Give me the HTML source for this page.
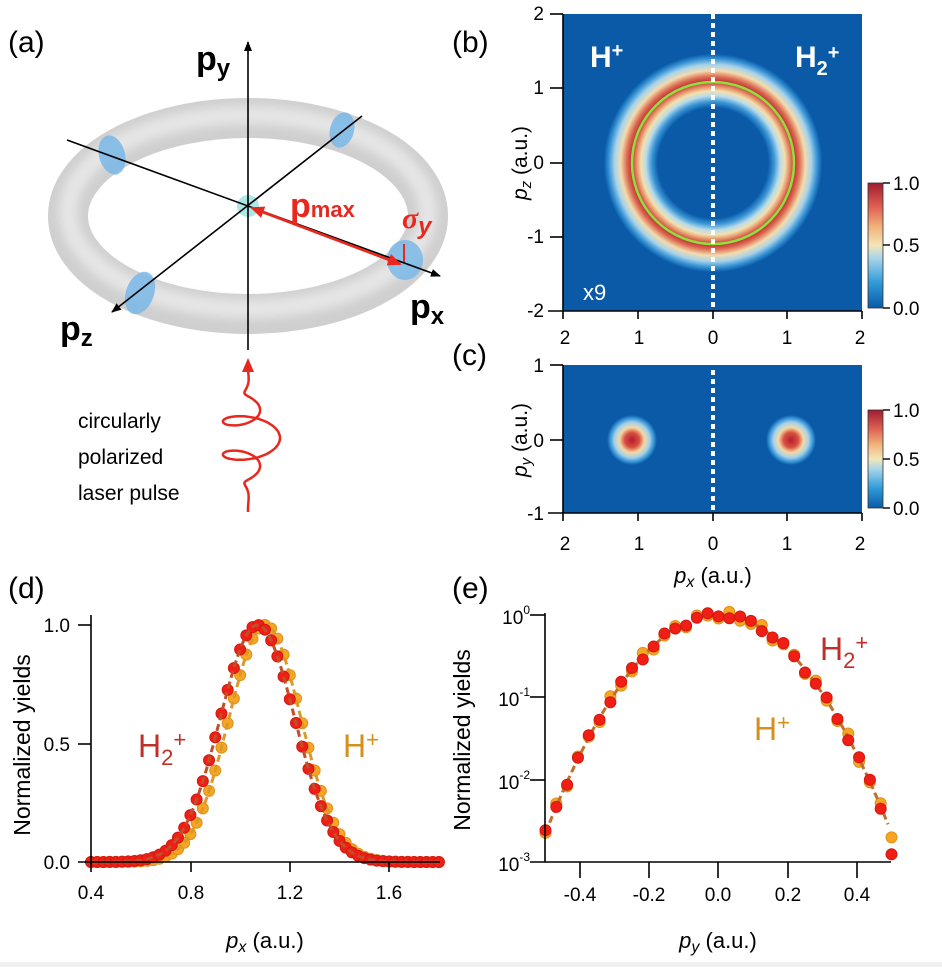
<!DOCTYPE html>
<html><head><meta charset="utf-8"><style>
html,body{margin:0;padding:0;background:#fff}
svg{display:block;font-family:"Liberation Sans",sans-serif}
</style></head><body>
<svg id="s" width="942" height="967" viewBox="0 0 942 967" xmlns="http://www.w3.org/2000/svg">
<defs>
<radialGradient id="ring" cx="713" cy="163" r="120" gradientUnits="userSpaceOnUse">
<stop offset="0" stop-color="#0a5aa8"/><stop offset="0.46" stop-color="#0a5aa8"/>
<stop offset="0.51" stop-color="#3a96d6"/><stop offset="0.56" stop-color="#b9dcea"/>
<stop offset="0.60" stop-color="#f3e0ae"/><stop offset="0.64" stop-color="#e48a62"/>
<stop offset="0.68" stop-color="#c0303a"/><stop offset="0.72" stop-color="#dd6e52"/>
<stop offset="0.77" stop-color="#f2dcae"/><stop offset="0.82" stop-color="#a8d3ea"/>
<stop offset="0.87" stop-color="#3592d4"/><stop offset="0.91" stop-color="#0a5aa8"/>
<stop offset="1" stop-color="#0a5aa8"/></radialGradient>
<radialGradient id="spot"><stop offset="0" stop-color="#b01e30"/><stop offset="0.3" stop-color="#d9503f"/>
<stop offset="0.5" stop-color="#f3d8a4"/><stop offset="0.7" stop-color="#a6d2ea"/><stop offset="0.88" stop-color="#3592d4"/><stop offset="1" stop-color="#0a5aa8"/></radialGradient>
<linearGradient id="cb" x1="0" y1="1" x2="0" y2="0">
<stop offset="0" stop-color="#0a5aa8"/><stop offset="0.2" stop-color="#2f9ad8"/><stop offset="0.4" stop-color="#a9d5ea"/>
<stop offset="0.5" stop-color="#f4e6b8"/><stop offset="0.65" stop-color="#f0b27a"/><stop offset="0.8" stop-color="#e06455"/><stop offset="1" stop-color="#a01c30"/></linearGradient>
<filter id="bl"><feGaussianBlur stdDeviation="5"/></filter>
<marker id="ah" markerWidth="10" markerHeight="10" refX="9" refY="5" orient="auto" markerUnits="userSpaceOnUse"><path d="M0,1 L10,5 L0,9 z" fill="#000"/></marker>
<marker id="ahr" markerWidth="14" markerHeight="14" refX="12" refY="7" orient="auto" markerUnits="userSpaceOnUse"><path d="M0,1 L14,7 L0,13 z" fill="#e8281e"/></marker>
</defs>

<!-- (a) -->
<text x="8" y="52" font-size="30">(a)</text>
<ellipse cx="248" cy="216" rx="180" ry="98" fill="none" stroke="#cfcfcf" stroke-width="40"/>
<ellipse cx="248" cy="212" rx="180" ry="97" fill="none" stroke="#e6e6e6" stroke-width="18" filter="url(#bl)"/>
<g fill="#7ab8e8" opacity="0.85">
<ellipse cx="112" cy="155" rx="13" ry="20" transform="rotate(-15 112 155)"/>
<ellipse cx="342" cy="130" rx="12" ry="18" transform="rotate(15 342 130)"/>
<ellipse cx="140" cy="293" rx="14" ry="22" transform="rotate(20 140 293)"/>
<ellipse cx="405" cy="260" rx="18" ry="20"/>
</g>
<circle cx="248" cy="206" r="11" fill="#aee6e6"/>
<line x1="248" y1="350" x2="248" y2="42" stroke="#000" stroke-width="1.6" marker-end="url(#ah)"/>
<line x1="67" y1="140" x2="440" y2="276" stroke="#000" stroke-width="1.6" marker-end="url(#ah)"/>
<line x1="362" y1="116" x2="112" y2="312" stroke="#000" stroke-width="1.6" marker-end="url(#ah)"/>
<line x1="400" y1="264" x2="252" y2="208" stroke="#e8281e" stroke-width="2.5" marker-end="url(#ahr)"/>
<line x1="252" y1="208" x2="400" y2="264" stroke="#e8281e" stroke-width="2.5" marker-end="url(#ahr)"/>
<line x1="404" y1="244" x2="404" y2="262" stroke="#e8281e" stroke-width="2"/>
<text x="290" y="217" font-size="34" font-weight="bold" fill="#e8281e">p<tspan font-size="22">max</tspan></text>
<text x="402" y="228" font-size="30" font-weight="bold" font-style="italic" fill="#e8281e" font-family="Liberation Serif">σ<tspan font-size="24" font-family="Liberation Sans" dy="6">y</tspan></text>
<text x="196" y="70" font-size="34" font-weight="bold">p<tspan font-size="24" dy="6">y</tspan></text>
<text x="60" y="340" font-size="34" font-weight="bold">p<tspan font-size="24" dy="6">z</tspan></text>
<text x="410" y="318" font-size="34" font-weight="bold">p<tspan font-size="24" dy="6">x</tspan></text>
<path d="M242,372 L248,358 L254,372z" fill="#e8281e"/>
<path id="spiral" fill="none" stroke="#e8281e" stroke-width="2.5"/>
<text font-size="21" x="78" y="428">circularly</text>
<text font-size="21" x="78" y="464">polarized</text>
<text font-size="21" x="78" y="500">laser pulse</text>

<!-- (b) -->
<text x="452" y="52" font-size="30">(b)</text>
<rect x="563" y="14" width="299" height="297" fill="#0a5aa8"/>
<circle cx="713" cy="163" r="120" fill="url(#ring)"/>
<circle cx="713" cy="163" r="81" fill="none" stroke="#8fe03a" stroke-width="2.5"/>
<line x1="713" y1="14" x2="713" y2="311" stroke="#fff" stroke-width="4" stroke-dasharray="5,4"/>
<text x="590" y="67" font-size="30" font-weight="bold" fill="#fff">H<tspan font-size="20" dy="-10">+</tspan></text>
<text x="795" y="67" font-size="30" font-weight="bold" fill="#fff">H<tspan font-size="20" dy="8">2</tspan><tspan font-size="20" dy="-16">+</tspan></text>
<text x="583" y="300" font-size="22" fill="#fff">x9</text>
<g stroke="#000" stroke-width="1.6"><line x1="563" y1="14" x2="563" y2="319"/><line x1="548" y1="311" x2="862" y2="311"/>
<line x1="550" y1="14" x2="563" y2="14"/><line x1="550" y1="88" x2="563" y2="88"/><line x1="550" y1="163" x2="563" y2="163"/><line x1="550" y1="237" x2="563" y2="237"/>
<line x1="638" y1="311" x2="638" y2="319"/><line x1="713" y1="311" x2="713" y2="319"/><line x1="787" y1="311" x2="787" y2="319"/><line x1="862" y1="311" x2="862" y2="319"/></g>
<g font-size="19" text-anchor="end"><text x="544" y="20">2</text><text x="544" y="94">1</text><text x="544" y="169">0</text><text x="544" y="243">-1</text><text x="544" y="317">-2</text></g>
<g font-size="19" text-anchor="middle"><text x="565" y="344">2</text><text x="639" y="344">1</text><text x="713" y="344">0</text><text x="787" y="344">1</text><text x="860" y="344">2</text></g>
<text transform="translate(527,163) rotate(-90)" font-size="21" text-anchor="middle"><tspan font-style="italic">p<tspan font-size="15" dy="4">z</tspan></tspan><tspan dy="-4"> (a.u.)</tspan></text>
<rect x="868" y="183" width="15" height="125" fill="url(#cb)" stroke="#333" stroke-width="0.8"/>
<g stroke="#000" stroke-width="1.4"><line x1="883" y1="183" x2="890" y2="183"/><line x1="883" y1="245" x2="890" y2="245"/><line x1="883" y1="308" x2="890" y2="308"/></g>
<g font-size="19"><text x="893" y="190">1.0</text><text x="893" y="252">0.5</text><text x="893" y="315">0.0</text></g>

<!-- (c) -->
<text x="452" y="365" font-size="30">(c)</text>
<rect x="563" y="365" width="299" height="148" fill="#0a5aa8"/>
<circle cx="632" cy="440" r="25" fill="url(#spot)"/>
<circle cx="791" cy="440" r="25" fill="url(#spot)"/>
<line x1="713" y1="370" x2="713" y2="513" stroke="#fff" stroke-width="4" stroke-dasharray="5,4"/>
<g stroke="#000" stroke-width="1.6"><line x1="563" y1="365" x2="563" y2="521"/><line x1="548" y1="513" x2="862" y2="513"/>
<line x1="550" y1="365" x2="563" y2="365"/><line x1="550" y1="440" x2="563" y2="440"/>
<line x1="638" y1="513" x2="638" y2="521"/><line x1="713" y1="513" x2="713" y2="521"/><line x1="787" y1="513" x2="787" y2="521"/><line x1="862" y1="513" x2="862" y2="521"/></g>
<g font-size="19" text-anchor="end"><text x="544" y="372">1</text><text x="544" y="447">0</text><text x="544" y="520">-1</text></g>
<g font-size="19" text-anchor="middle"><text x="565" y="550">2</text><text x="639" y="550">1</text><text x="713" y="550">0</text><text x="787" y="550">1</text><text x="860" y="550">2</text></g>
<text transform="translate(527,440) rotate(-90)" font-size="21" text-anchor="middle"><tspan font-style="italic">p<tspan font-size="15" dy="4">y</tspan></tspan><tspan dy="-4"> (a.u.)</tspan></text>
<text x="713" y="583" font-size="22" text-anchor="middle"><tspan font-style="italic">p<tspan font-size="16" dy="4">x</tspan></tspan><tspan dy="-4"> (a.u.)</tspan></text>
<rect x="868" y="410" width="15" height="98" fill="url(#cb)" stroke="#333" stroke-width="0.8"/>
<g stroke="#000" stroke-width="1.4"><line x1="883" y1="410" x2="890" y2="410"/><line x1="883" y1="459" x2="890" y2="459"/><line x1="883" y1="508" x2="890" y2="508"/></g>
<g font-size="19"><text x="893" y="417">1.0</text><text x="893" y="466">0.5</text><text x="893" y="515">0.0</text></g>

<!-- (d) -->
<text x="8" y="598" font-size="30">(d)</text>
<g id="dplot"></g>
<g stroke="#000" stroke-width="1.6"><line x1="91" y1="615" x2="91" y2="872"/><line x1="78" y1="862" x2="440" y2="862"/>
<line x1="78" y1="625" x2="91" y2="625"/><line x1="78" y1="744" x2="91" y2="744"/>
<line x1="191" y1="862" x2="191" y2="872"/><line x1="290" y1="862" x2="290" y2="872"/><line x1="389" y1="862" x2="389" y2="872"/></g>
<g font-size="19" text-anchor="end"><text x="70" y="632">1.0</text><text x="70" y="751">0.5</text><text x="70" y="869">0.0</text></g>
<g font-size="19" text-anchor="middle"><text x="91" y="899">0.4</text><text x="191" y="899">0.8</text><text x="290" y="899">1.2</text><text x="389" y="899">1.6</text></g>
<text transform="translate(30,745) rotate(-90)" font-size="23" text-anchor="middle">Normalized yields</text>
<text x="265" y="948" font-size="22" text-anchor="middle"><tspan font-style="italic">p<tspan font-size="16" dy="4">x</tspan></tspan><tspan dy="-4"> (a.u.)</tspan></text>
<text x="138" y="757" font-size="32" fill="#c0302a">H<tspan font-size="22" dy="8">2</tspan><tspan font-size="22" dy="-18">+</tspan></text>
<text x="343" y="757" font-size="32" fill="#d4901a">H<tspan font-size="22" dy="-10">+</tspan></text>

<!-- (e) -->
<text x="452" y="598" font-size="30">(e)</text>
<g id="eplot"></g>
<g stroke="#000" stroke-width="1.6"><line x1="545" y1="613" x2="545" y2="862"/><line x1="530" y1="862" x2="891" y2="862"/>
<line x1="530" y1="615" x2="545" y2="615"/><line x1="530" y1="697" x2="545" y2="697"/><line x1="530" y1="780" x2="545" y2="780"/>
<line x1="580" y1="862" x2="580" y2="878"/><line x1="649" y1="862" x2="649" y2="878"/><line x1="718" y1="862" x2="718" y2="878"/><line x1="788" y1="862" x2="788" y2="878"/><line x1="857" y1="862" x2="857" y2="878"/></g>
<g font-size="19" text-anchor="end">
<text x="530" y="624">10<tspan font-size="12" dy="-10">0</tspan></text>
<text x="530" y="706">10<tspan font-size="12" dy="-10">-1</tspan></text>
<text x="530" y="789">10<tspan font-size="12" dy="-10">-2</tspan></text>
<text x="530" y="871">10<tspan font-size="12" dy="-10">-3</tspan></text></g>
<g font-size="19" text-anchor="middle"><text x="580" y="901">-0.4</text><text x="649" y="901">-0.2</text><text x="718" y="901">0.0</text><text x="788" y="901">0.2</text><text x="857" y="901">0.4</text></g>
<text transform="translate(470,740) rotate(-90)" font-size="23" text-anchor="middle">Normalized yields</text>
<text x="718" y="948" font-size="22" text-anchor="middle"><tspan font-style="italic">p<tspan font-size="16" dy="4">y</tspan></tspan><tspan dy="-4"> (a.u.)</tspan></text>
<text x="820" y="660" font-size="32" fill="#c0302a">H<tspan font-size="22" dy="8">2</tspan><tspan font-size="22" dy="-18">+</tspan></text>
<text x="754" y="740" font-size="32" fill="#d4901a">H<tspan font-size="22" dy="-10">+</tspan></text>
<rect x="0" y="962" width="942" height="5" fill="#f0f0f0"/>
</svg>
<script>
var NS="http://www.w3.org/2000/svg";
function el(p,t,a){var e=document.createElementNS(NS,t);for(var k in a)e.setAttribute(k,a[k]);p.appendChild(e);return e;}
// helix
var d="M248,512";for(var t=0;t<=1;t+=0.004){var yc=508-t*140;var amp=32*Math.exp(-Math.pow((t-0.5)/0.22,2));var ph=t*Math.PI*2*4.5;var x=248+amp*Math.sin(ph);var yy=yc+amp*0.45*Math.cos(ph);d+=" L"+x.toFixed(1)+","+yy.toFixed(1);}
document.getElementById("spiral").setAttribute("d",d);
// d plot
var dg=document.getElementById("dplot");
function dx(v){return 91+(v-0.4)*248.5;} function dy(v){return 862-v*237;}
function g(x,c,s){return Math.exp(-Math.pow(x-c,2)/(2*s*s));}
function line(gp,f,x0,x1,X,Y,col){var p="";for(var x=x0;x<=x1+1e-9;x+=0.005){p+=(p?" L":"M")+X(x).toFixed(1)+","+Y(f(x)).toFixed(1);}el(gp,"path",{d:p,fill:"none",stroke:col,"stroke-width":3,"stroke-dasharray":"7,4"});}
var fH=function(x){return g(x,1.10,0.145)}, fH2=function(x){return g(x,1.07,0.15)};
for(var x=0.4;x<=1.8001;x+=0.025){el(dg,"circle",{cx:dx(x),cy:dy(fH(x)),r:5.5,fill:"#f5a623",stroke:"#e0901a","stroke-width":1});}
line(dg,fH,0.4,1.8,dx,dy,"#d99a2a");
for(var x=0.4;x<=1.8001;x+=0.025){el(dg,"circle",{cx:dx(x),cy:dy(fH2(x)),r:5.5,fill:"#f01e14",stroke:"#d01a10","stroke-width":1});}
line(dg,fH2,0.4,1.8,dx,dy,"#c0502a");
// e plot
var eg=document.getElementById("eplot");
function ex(v){return 718.5+v*346;} function ey(v){return 615-Math.log10(v)*82.3;}
var fe=function(x){return Math.exp(-x*x/(2*0.0205));};
var st=1/32;
for(var i=0;i<=32;i++){var x=-0.5+i*st;var j=1+0.12*Math.sin(i*2.3);el(eg,"circle",{cx:ex(x),cy:ey(fe(x)*j),r:5.5,fill:"#f5a623",stroke:"#e0901a","stroke-width":1});}
line(eg,fe,-0.5,0.49,ex,ey,"#c0702a");
for(var i=0;i<=32;i++){var x=-0.5+i*st;var j=1+0.08*Math.cos(i*1.7);if(i==32)j=0.55;el(eg,"circle",{cx:ex(x),cy:ey(fe(x)*j),r:5.5,fill:"#f01e14",stroke:"#d01a10","stroke-width":1});}
</script>
</body></html>
